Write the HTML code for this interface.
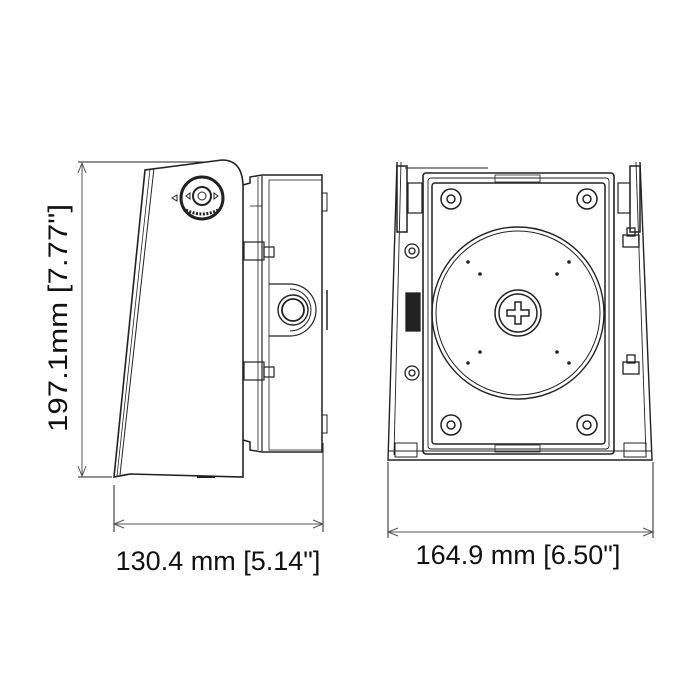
<!DOCTYPE html>
<html><head><meta charset="utf-8"><style>
html,body{margin:0;padding:0;background:#fff;width:700px;height:700px;overflow:hidden}
svg{display:block}
text{font-family:"Liberation Sans",Arial,sans-serif;fill:#111}
</style></head><body>
<svg width="700" height="700" viewBox="0 0 700 700" xmlns="http://www.w3.org/2000/svg">
<g fill="none" stroke="#222" stroke-width="1.3">
<!-- LEFT: vertical dimension -->
<line x1="78" y1="162" x2="205" y2="162" stroke-width="1"/>
<line x1="78" y1="477" x2="112" y2="477" stroke-width="1"/>
<line x1="82" y1="163" x2="82" y2="476" stroke="#555" stroke-width="1"/>
<polyline points="78,173 82,163 86,173" stroke="#555" stroke-width="1"/>
<polyline points="78,466 82,476 86,466" stroke="#555" stroke-width="1"/>
<!-- housing -->
<path d="M114,477 L145,170 L222,160 Q242,160 243,185 L243,477 L130,474 Z" stroke-width="1.6"/>
<path d="M120,475 L154,168" stroke-width="1"/>
<path d="M117,476 L150,169" stroke-width="0.8"/>
<line x1="197" y1="477" x2="215" y2="477" stroke-width="2"/>
<!-- knob -->
<circle cx="202" cy="198" r="21" stroke-width="3"/>
<circle cx="202" cy="196" r="9" stroke-width="2"/>
<circle cx="202" cy="196" r="4" stroke-width="1"/>
<path d="M186,210 Q202,218 218,210" stroke-width="3" stroke-dasharray="2 1.5"/>
<polygon points="172,198 177,195 177,201" stroke-width="1"/>
<polygon points="186,196 190,193 190,199" stroke-width="1"/>
<polygon points="218,196 214,193 214,199" stroke-width="1"/>
<!-- junction box -->
<path d="M243,185 L250,183 L250,177 L262,175 L322,175 L322,452 L262,452 L250,450 L250,442 L243,440" stroke-width="1.5"/>
<line x1="262" y1="176" x2="262" y2="451" stroke-width="1.2"/>
<line x1="258" y1="177" x2="258" y2="450" stroke-width="0.8"/>
<rect x="269" y="180" width="53" height="270" stroke-width="0.8"/>
<line x1="250" y1="206" x2="262" y2="206" stroke-width="0.8"/>
<rect x="322" y="193" width="5" height="18" stroke-width="1"/>
<rect x="322" y="415" width="5" height="18" stroke-width="1"/>
<line x1="327" y1="290" x2="327" y2="330" stroke-width="1.5"/>
<!-- clips -->
<rect x="244" y="242" width="20" height="18" stroke-width="1.2"/>
<rect x="264" y="247" width="10" height="10" stroke-width="1.2"/>
<rect x="244" y="362" width="20" height="18" stroke-width="1.2"/>
<rect x="264" y="367" width="10" height="10" stroke-width="1.2"/>
<!-- boss -->
<path d="M269,284 L290,284 A26,26 0 0 1 290,336 L269,336" stroke-width="1.2"/>
<path d="M290,289 A21,21 0 0 1 290,331" stroke-width="1"/>
<circle cx="293" cy="310" r="15" stroke-width="1.4"/>
<circle cx="293" cy="310" r="11" stroke-width="1.8"/>
<!-- horizontal dimension -->
<line x1="114" y1="485" x2="114" y2="532" stroke-width="1"/>
<line x1="323" y1="443" x2="323" y2="532" stroke-width="1"/>
<line x1="114" y1="524" x2="323" y2="524" stroke="#555" stroke-width="1"/>
<polyline points="124,520 114,524 124,528" stroke="#555" stroke-width="1"/>
<polyline points="313,520 323,524 313,528" stroke="#555" stroke-width="1"/>

<!-- RIGHT view -->
<path d="M397,162 L388,460 L652,460 L640,162" stroke-width="1.4"/>
<path d="M401,162 L394,455" stroke-width="0.9"/>
<path d="M636,162 L646,455" stroke-width="0.9"/>
<line x1="388" y1="451" x2="652" y2="451" stroke-width="1"/>
<line x1="405" y1="168" x2="488" y2="168" stroke-width="1"/>
<!-- side brackets -->
<rect x="397" y="166" width="10" height="66" stroke-width="1.5"/>
<rect x="408" y="183" width="14" height="30" stroke-width="1.2"/>
<rect x="630" y="166" width="10" height="66" stroke-width="1.5"/>
<rect x="618" y="183" width="12" height="30" stroke-width="1.2"/>
<circle cx="412" cy="251" r="7"/><circle cx="412" cy="251" r="3"/>
<circle cx="412" cy="373" r="7"/><circle cx="412" cy="373" r="3"/>
<rect x="623" y="235" width="16" height="12"/><rect x="627" y="228" width="8" height="8"/>
<rect x="623" y="362" width="16" height="12"/><rect x="627" y="355" width="8" height="8"/>
<rect x="406" y="293" width="14" height="38" fill="#222"/>
<!-- main box -->
<rect x="423" y="173" width="191" height="281" rx="3" stroke-width="1.6"/>
<rect x="428" y="178" width="181" height="271" rx="3" stroke-width="0.9"/>
<rect x="432" y="183" width="173" height="261" rx="3" stroke-width="1.5"/>
<rect x="495" y="175" width="45" height="7" stroke-width="0.8"/>
<rect x="495" y="445" width="45" height="7" stroke-width="0.8"/>
<!-- bolts -->
<g stroke-width="1.5">
<circle cx="451" cy="199" r="10"/><circle cx="451" cy="199" r="4"/>
<circle cx="587" cy="199" r="10"/><circle cx="587" cy="199" r="4"/>
<circle cx="451" cy="425" r="10"/><circle cx="451" cy="425" r="4"/>
<circle cx="587" cy="425" r="10"/><circle cx="587" cy="425" r="4"/>
</g>
<!-- disc -->
<circle cx="518" cy="313" r="86" stroke-width="1.4"/>
<circle cx="518" cy="313" r="82" stroke-width="1"/>
<circle cx="518" cy="313" r="23" stroke-width="1.5"/>
<circle cx="518" cy="313" r="19" stroke-width="1.5"/>
<path d="M515,302 h6 v8 h8 v6 h-8 v8 h-6 v-8 h-8 v-6 h8 z" stroke-width="1.5"/>
<!-- bottom feet -->
<rect x="395" y="443" width="22" height="14" stroke-width="1"/>
<rect x="624" y="443" width="22" height="14" stroke-width="1"/>
<!-- horizontal dimension -->
<line x1="388" y1="462" x2="388" y2="538" stroke-width="1"/>
<line x1="653" y1="462" x2="653" y2="538" stroke-width="1"/>
<line x1="388" y1="532" x2="653" y2="532" stroke="#555" stroke-width="1"/>
<polyline points="398,528 388,532 398,536" stroke="#555" stroke-width="1"/>
<polyline points="643,528 653,532 643,536" stroke="#555" stroke-width="1"/>
</g>
<g fill="#222">
<circle cx="468" cy="262" r="1.8"/><circle cx="480" cy="274" r="1.8"/>
<circle cx="569" cy="262" r="1.8"/><circle cx="557" cy="274" r="1.8"/>
<circle cx="480" cy="352" r="1.8"/><circle cx="468" cy="363" r="1.8"/>
<circle cx="557" cy="352" r="1.8"/><circle cx="569" cy="363" r="1.8"/>
</g>
<text x="218" y="570" font-size="27" text-anchor="middle">130.4 mm [5.14"]</text>
<text x="518" y="564" font-size="27" text-anchor="middle">164.9 mm [6.50"]</text>
<text transform="translate(67,318) rotate(-90)" font-size="27" text-anchor="middle" textLength="228" lengthAdjust="spacingAndGlyphs">197.1mm  [7.77"]</text>
</svg>
</body></html>
